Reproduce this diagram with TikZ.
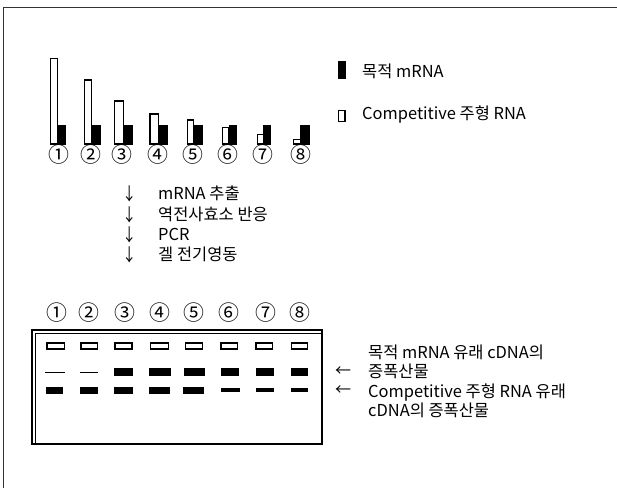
\documentclass[tikz,border=0pt]{standalone}
\usepackage{fontspec}
\setmainfont{Noto Sans CJK KR}
\usetikzlibrary{positioning}

\begin{document}
\begin{tikzpicture}[
        x=1bp, y=-1bp,
        node distance=6bp and 20bp,
        txt/.style={inner sep=0pt, anchor=west, font=\fontsize{16.5}{19.5}\selectfont},
        num/.style={inner sep=0pt, font=\fontsize{21}{22}\selectfont},
        glyph/.style={inner sep=0pt, font=\fontsize{16}{16}\selectfont},
        target/.style={fill=black, draw=black, line width=0.8pt},
        compet/.style={fill=white, draw=black, line width=1.5pt},
        well/.style={fill=white, draw=black, line width=1.3pt},
        band/.style={fill=black},
        frame/.style={draw=black!80, line width=1pt}
    ]
        \useasboundingbox (0,0) rectangle (617,488);

        % Outer frame
        \draw[frame] (3,488) -- (3,8) -- (617,8);

        % Bar chart: competitive template RNA (white) and target mRNA (black)
        \draw[compet] (50.7,58.3) rectangle (57.3,144);
        \draw[target] (57.3,125) rectangle (65.7,144);
        \draw[compet] (84.3,80) rectangle (91.7,144);
        \draw[target] (91.7,125) rectangle (100.7,144);
        \draw[compet] (114.3,101) rectangle (123.3,144);
        \draw[target] (123.3,125) rectangle (132.7,144);
        \draw[compet] (150,114) rectangle (158.3,144);
        \draw[target] (158.3,125) rectangle (167.3,144);
        \draw[compet] (187.3,120) rectangle (193.3,144);
        \draw[target] (193.3,125) rectangle (202.7,144);
        \draw[compet] (222.7,127.7) rectangle (229,144);
        \draw[target] (229,125) rectangle (236.7,144);
        \draw[compet] (257.7,134.5) rectangle (263.3,144);
        \draw[target] (263.3,125) rectangle (270.7,144);
        \draw[compet] (293.3,139.5) rectangle (300.7,144);
        \draw[target] (300.7,125) rectangle (309.3,144);

        \node[num] (b1) at (59.3,155) {①};
        \node[num] (b2) at (91,155) {②};
        \node[num] (b3) at (121.7,155) {③};
        \node[num] (b4) at (157.7,155) {④};
        \node[num] (b5) at (193.3,155) {⑤};
        \node[num] (b6) at (228.3,155) {⑥};
        \node[num] (b7) at (263.3,155) {⑦};
        \node[num] (b8) at (300.7,155) {⑧};

        % Legend
        \draw[target] (338.3,61.7) rectangle (345.5,78.3);
        \node[txt] (lgtarget) at (362,71) {목적 mRNA};
        \draw[compet] (338.5,110.5) rectangle (345,121.5);
        \node[txt] (lgcompet) at (362,115) {Competitive 주형 RNA};

        % Procedure
        \node[glyph] (a1) at (130,194) {\scalebox{0.9}[1.1]{↓}};
        \node[glyph] (a2) at (130,215) {\scalebox{0.9}[1.1]{↓}};
        \node[glyph] (a3) at (130,235) {\scalebox{0.9}[1.1]{↓}};
        \node[glyph] (a4) at (130,255) {\scalebox{0.9}[1.1]{↓}};
        \node[txt] (s1) at (158,193) {mRNA 추출};
        \node[txt] (s2) at (158,214) {역전사효소 반응};
        \node[txt] (s3) at (158,234) {PCR};
        \node[txt] (s4) at (158,254) {겔 전기영동};

        % Gel
        \draw[line width=1.3pt] (32,330) rectangle (322,444);
        \draw[line width=1pt] (35.5,444) -- (35.5,333.5) -- (322,333.5);

        \node[num] (g1) at (57.3,313) {①};
        \node[num] (g2) at (89.3,313) {②};
        \node[num] (g3) at (125,313) {③};
        \node[num] (g4) at (160,313) {④};
        \node[num] (g5) at (194.3,313) {⑤};
        \node[num] (g6) at (229.3,313) {⑥};
        \node[num] (g7) at (266,313) {⑦};
        \node[num] (g8) at (300,313) {⑧};

        % Wells
        \draw[well] (47,343) rectangle (64.5,349);
        \draw[well] (81,343) rectangle (97.5,349);
        \draw[well] (115,343) rectangle (132,349);
        \draw[well] (150.3,343) rectangle (168.3,349);
        \draw[well] (185.3,343) rectangle (202.5,349);
        \draw[well] (221,343) rectangle (237.5,349);
        \draw[well] (256,343) rectangle (272.5,349);
        \draw[well] (291.5,343) rectangle (307.5,349);

        % Bands of target mRNA derived cDNA
        \fill[band] (45,371.5) rectangle (65,373.2);
        \fill[band] (79.5,371.5) rectangle (98.3,373.2);
        \fill[band] (114,368.3) rectangle (132.7,376);
        \fill[band] (149.3,368.3) rectangle (171,376);
        \fill[band] (184.3,368.3) rectangle (205,376);
        \fill[band] (221,368.3) rectangle (238.5,376);
        \fill[band] (256,368.3) rectangle (274,376);
        \fill[band] (290.7,368.3) rectangle (308.3,376);

        % Bands of competitive template derived cDNA
        \fill[band] (46,386.7) rectangle (63.3,394.3);
        \fill[band] (80,386.7) rectangle (98.3,394.3);
        \fill[band] (114,386.7) rectangle (132.7,394.3);
        \fill[band] (149.3,386.7) rectangle (170,394.3);
        \fill[band] (183.3,386.7) rectangle (204.3,394.3);
        \fill[band] (221,387.7) rectangle (240,391.7);
        \fill[band] (256,387.7) rectangle (274,391.7);
        \fill[band] (290.7,387.7) rectangle (308.3,391.7);

        % Band labels
        \node[glyph] (l1) at (343,372) {←};
        \node[glyph] (l2) at (343,390.5) {←};
        \node[txt, align=left] (tgt) at (368,362) {목적 mRNA 유래 cDNA의\\증폭산물};
        \node[txt, align=left] (cmp) at (368,400.5) {Competitive 주형 RNA 유래\\cDNA의 증폭산물};
    \end{tikzpicture}
\end{document}
